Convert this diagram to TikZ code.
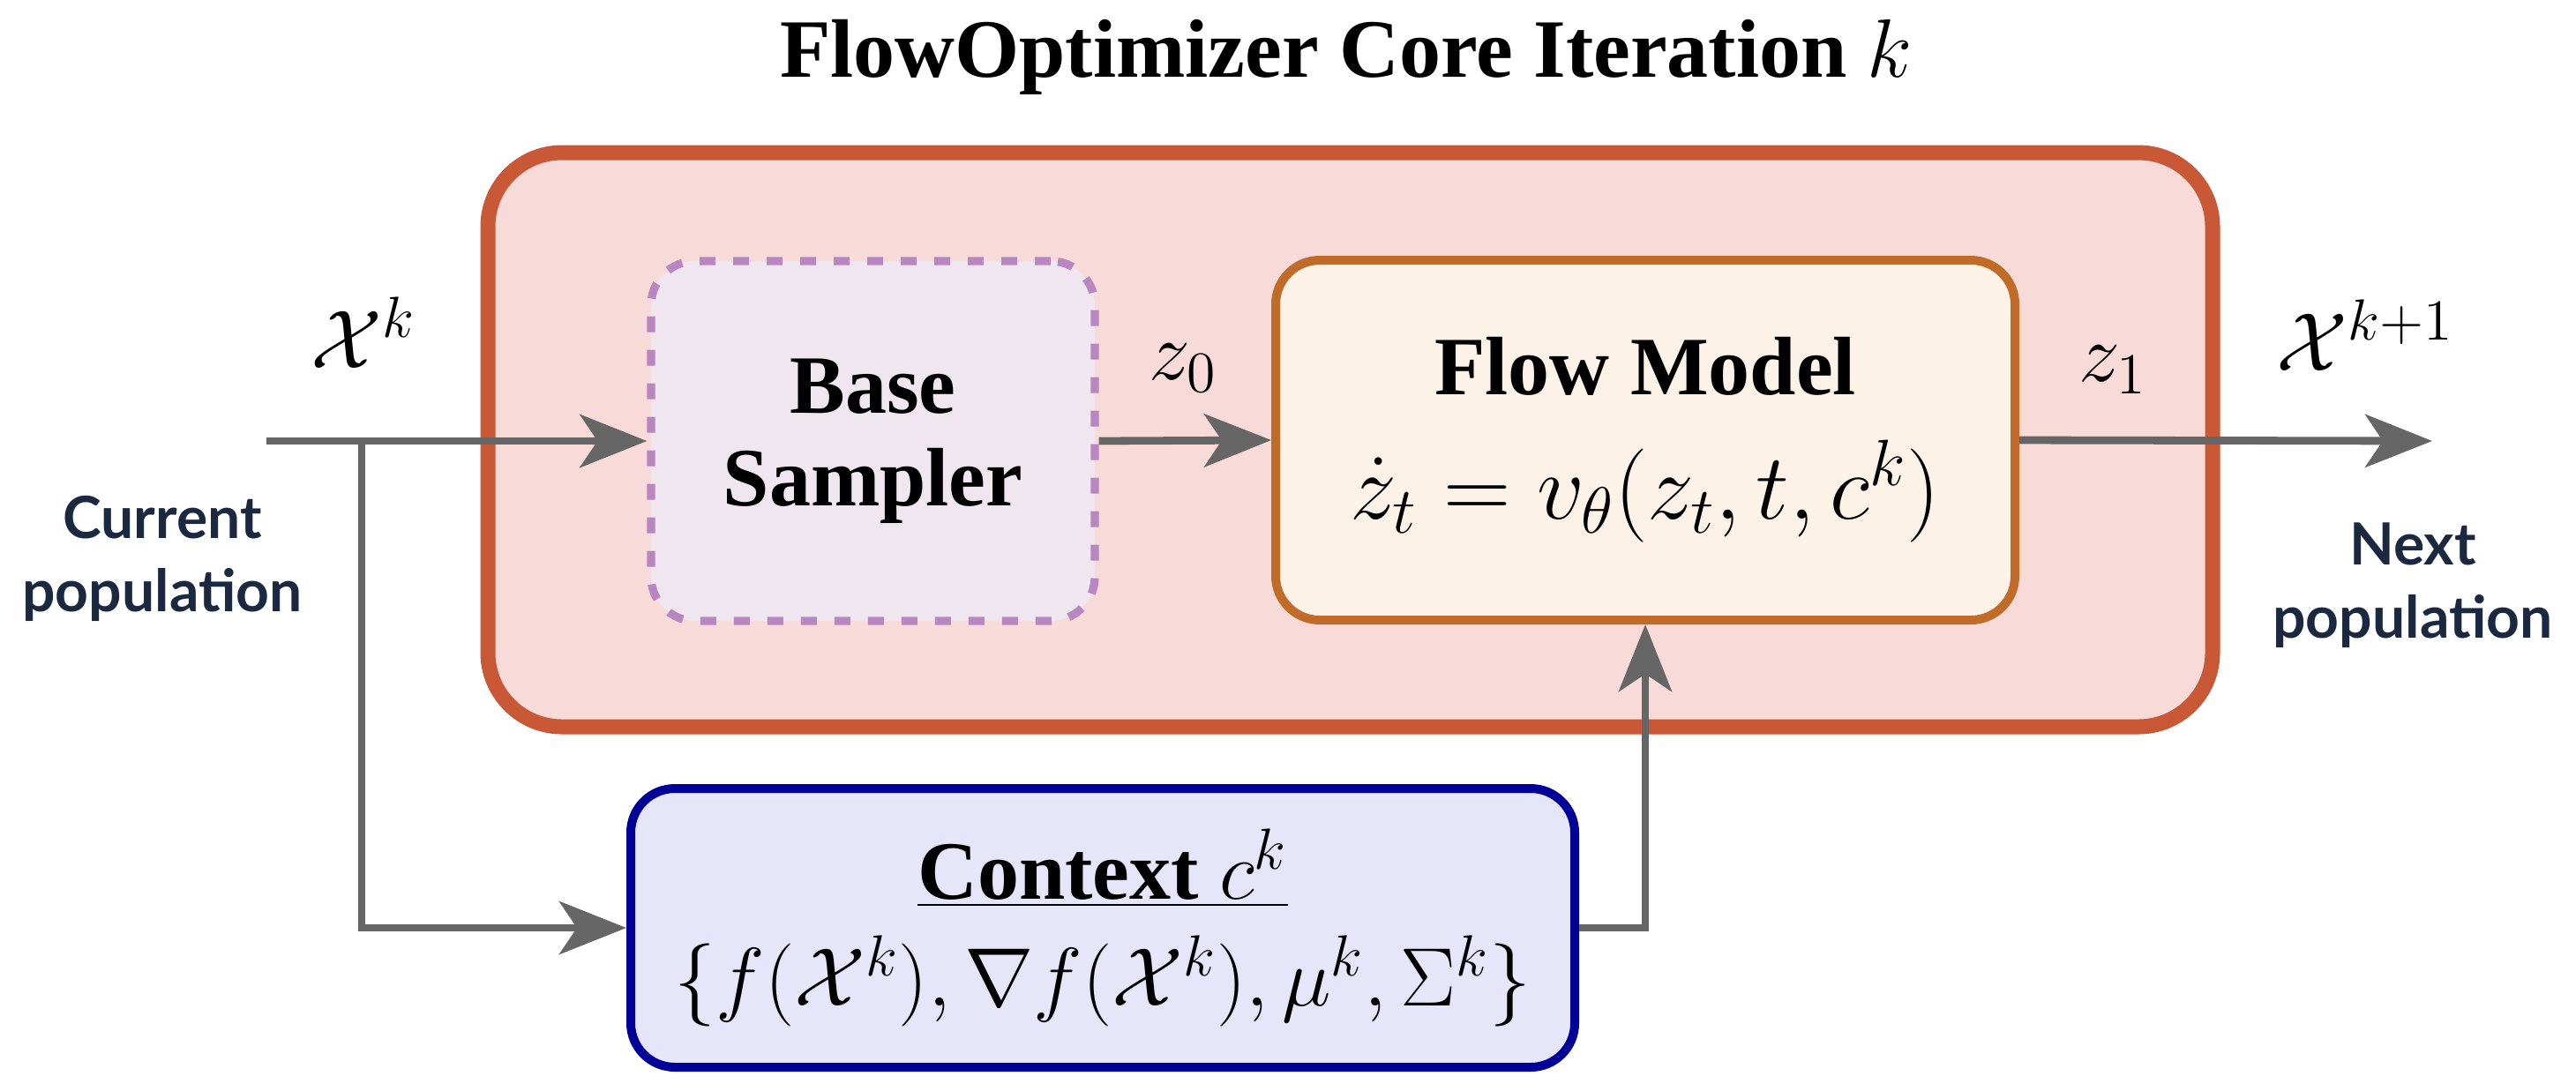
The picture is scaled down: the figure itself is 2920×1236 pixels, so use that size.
\RequirePackage{fix-cm}
\documentclass[tikz,border=0pt]{standalone}
\usepackage[no-math]{fontspec}
\setmainfont{Liberation Serif}
\newfontfamily\labfont{Lato}
\usetikzlibrary{arrows.meta}
\definecolor{outerC}{HTML}{C95837}
\definecolor{outerF}{HTML}{F8DBD9}
\definecolor{baseC}{HTML}{B886C0}
\definecolor{baseF}{HTML}{F0E6EF}
\definecolor{flowC}{HTML}{C06C28}
\definecolor{flowF}{HTML}{FDF2E8}
\definecolor{ctxC}{HTML}{000099}
\definecolor{ctxF}{HTML}{E6E6FA}
\definecolor{arrowgray}{HTML}{666666}
\definecolor{labC}{HTML}{1A2940}
\tikzset{
  arr/.style={draw=arrowgray, line width=2.2pt, -{Stealth[length=19pt,width=15pt,inset=5pt]}},
  mathlab/.style={anchor=base, inner sep=0pt, font=\fontsize{23.5}{28}\selectfont},
  poplab/.style={align=center, inner sep=0pt, text=labC, font=\labfont\bfseries\fontsize{16.5}{20.75}\selectfont},
  roundbox/.style={rounded corners=12.5pt, inner sep=0pt, align=center},
}
\begin{document}
\begin{tikzpicture}[x=0.25pt,y=-0.25pt]
\useasboundingbox (0,0) rectangle (2920,1236);
% title
\node[anchor=base, inner sep=0pt, font=\fontsize{23.5}{28}\selectfont\bfseries] (title) at (1526,87) {FlowOptimizer Core Iteration $k$};
% outer box
\node[draw=outerC, fill=outerF, line width=4.25pt, rounded corners=21pt, minimum width=488.75pt, minimum height=162.75pt, inner sep=0pt] (outer) at (1530.5,498.5) {};
% inner boxes
\node[roundbox, draw=baseC, fill=baseF, line width=2.3pt, dash pattern=on 4.5pt off 5pt, minimum width=125.75pt, minimum height=102pt, font=\fontsize{23.5}{26.25}\selectfont\bfseries] (base) at (989.5,500) {Base\\Sampler};
\node[roundbox, draw=flowC, fill=flowF, line width=2.5pt, minimum width=209.5pt, minimum height=102pt, font=\fontsize{23.5}{35.25}\selectfont] (flow) at (1865,499) {\textbf{Flow Model}\\{\fontsize{26.5}{35.25}\selectfont$\dot z_t = v_\theta(z_t,t,c^k)$}};
\node[roundbox, draw=ctxC, fill=ctxF, line width=2.5pt, minimum width=267.5pt, minimum height=79pt, font=\fontsize{23.5}{30.25}\selectfont] (ctx) at (1250,1052) {\underline{\textbf{Context} $c^k$}\\$\{f(\mathcal{X}^k),\nabla f(\mathcal{X}^k),\mu^k,\Sigma^k\}$};
% labels
\node[mathlab] (xk) at (412,417) {$\mathcal{X}^k$};
\node[mathlab] (xk1) at (2681,420) {$\mathcal{X}^{k+1}$};
\node[mathlab] (z0) at (1341,430) {$z_0$};
\node[mathlab] (z1) at (2395,432) {$z_1$};
\node[poplab] (cur) at (184,633) {Current\\population};
\node[poplab] (nxt) at (2735,664) {Next\\population};
% connectors
\coordinate (in) at (302,500);
\coordinate (br) at (410,500);
\coordinate (out) at (2757,500);
\draw[arr] (in) -- (base.west);
\draw[arr] (br) |- (ctx.west);
\draw[arr] (base.east) -- (flow.west);
\draw[arr] (flow.east) -- (out);
\draw[arr] (ctx.east) -| (flow.south);
\end{tikzpicture}
\end{document}
